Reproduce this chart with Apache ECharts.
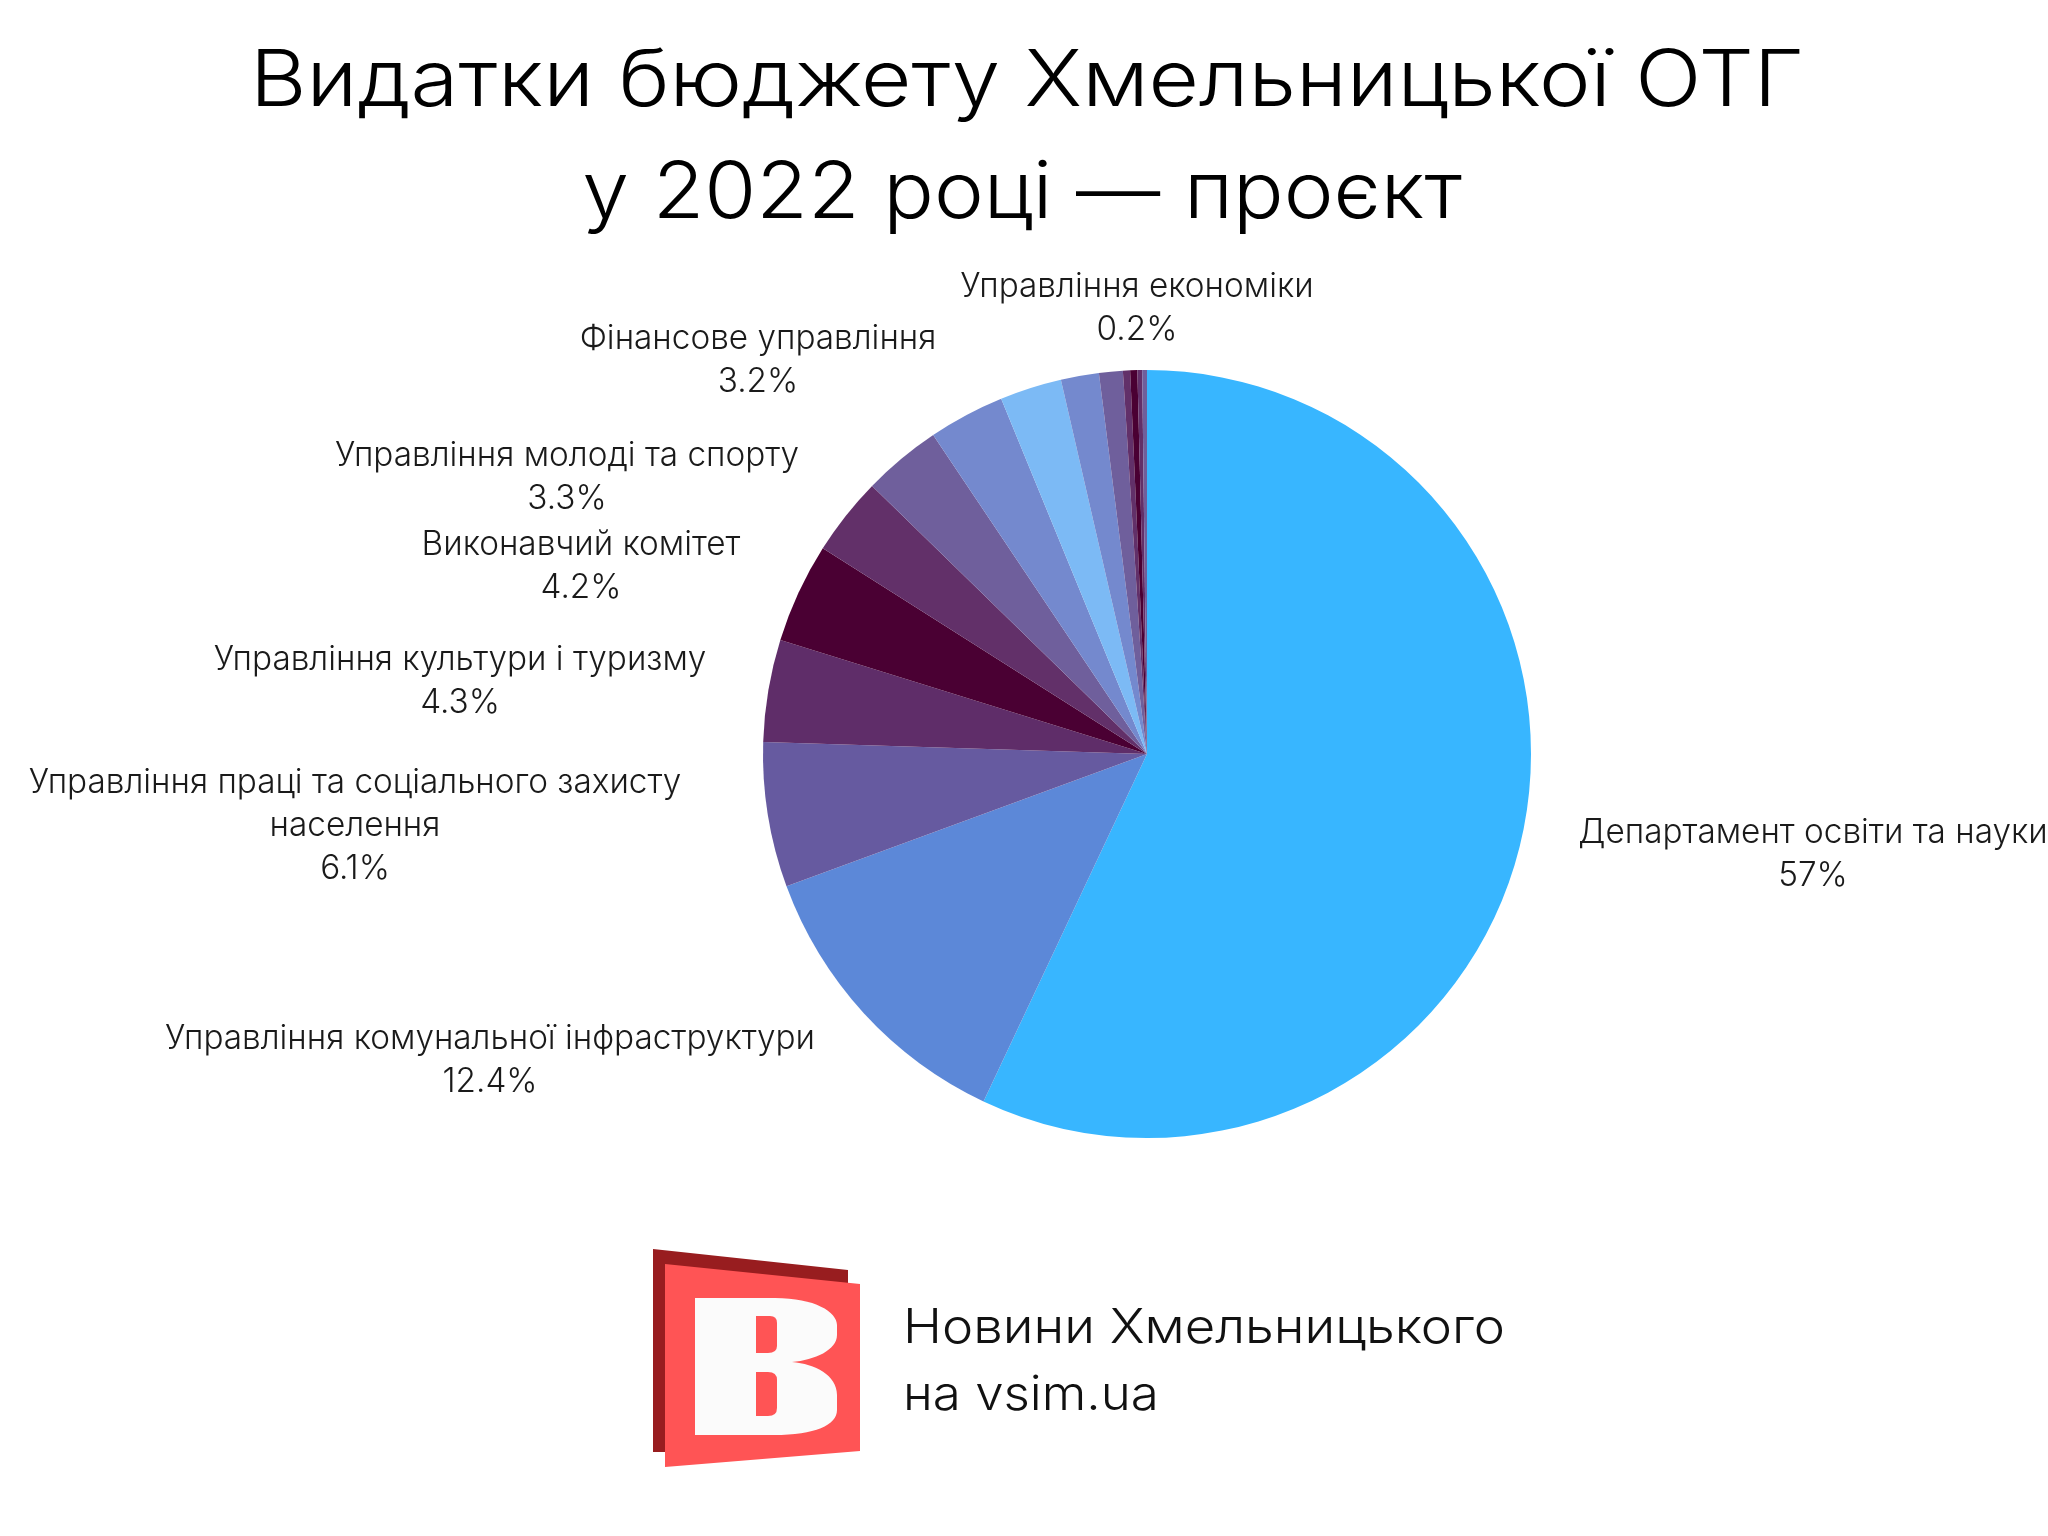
<!DOCTYPE html>
<html><head><meta charset="utf-8">
<style>html,body{margin:0;padding:0;background:#fff}#c{width:2048px;height:1536px}</style>
<script src="https://cdn.jsdelivr.net/npm/echarts@6/dist/echarts.min.js"></script>
</head><body><div id="c"></div>
<script>
const titleLines = ['Видатки бюджету Хмельницької ОТГ', 'у 2022 році — проєкт'];
const brandLines = ['Новини Хмельницького', 'на vsim.ua'];
const sliceValues = [57, 12.4, 6.1, 4.3, 4.2, 3.3, 3.3, 3.2, 2.6, 1.6, 1.0, 0.3, 0.3, 0.2, 0.2];
const sliceColors = ['#38B6FF','#5C88D8','#665AA0','#5F2D69','#4A0033','#623069','#6F5F9C','#7489CE','#7CBAF5','#7489CE','#6F5F9C','#623069','#4A0033','#623069','#6F5F9C'];
// index of slice -> displayed name (the source labels only some slices)
const labelNames = {
  0:'Департамент освіти та науки',
  1:'Управління комунальної інфраструктури',
  2:'Управління праці та соціального захисту\nнаселення',
  3:'Управління культури і туризму',
  4:'Виконавчий комітет',
  5:'Управління молоді та спорту',
  7:'Фінансове управління',
  14:'Управління економіки'
};
const labelSpots = {0:[1813,854],1:[490,1060],2:[355,826],3:[460,681],4:[581,566],5:[567,477],7:[758,360],14:[1137,308]};
const FONT = 'Inter';
const G = echarts.graphic;
G.registerShape('logoB', G.extendPath('M695 1298L775 1298C815 1298 837 1312 837 1325L837 1335C837 1350 815 1360 792 1362C815 1364 837 1375 837 1395L837 1410C837 1425 815 1435 774 1435L695 1435Z',{}));
G.registerShape('logoHoleA', G.extendPath('M756 1316L770 1316Q777 1316 777 1323L777 1346Q777 1353 768 1353L756 1353Z',{}));
G.registerShape('logoHoleB', G.extendPath('M756 1372L768 1372Q777 1372 777 1380L777 1408Q777 1416 768 1416L756 1416Z',{}));
const chart = echarts.init(document.getElementById('c'), null, {renderer:'canvas', width:2048, height:1536});
const titleEl = (t,x,y,sx)=>({type:'text',x:x,y:y,scaleX:sx,style:{text:t,x:0,y:0,align:'center',verticalAlign:'middle',fontFamily:FONT,fontWeight:300,fontSize:78,fill:'#000'}});
const brandEl = (t,y,sx)=>({type:'text',x:903,y:y,scaleX:sx,style:{text:t,x:0,y:0,align:'left',verticalAlign:'middle',fontFamily:FONT,fontWeight:300,fontSize:48,fill:'#111'}});
chart.setOption({
  animation:false,
  backgroundColor:'#fff',
  series:[{
    type:'pie', center:[1147,754], radius:[0,384], startAngle:90, clockwise:true,
    avoidLabelOverlap:false, silent:true, minAngle:0,
    labelLine:{show:false},
    label:{show:false,fontFamily:FONT,fontWeight:300,fontSize:33.3,lineHeight:43,color:'#1a1a1a',align:'center',
      formatter:p=>p.name+'\n'+p.value+'%'},
    labelLayout:p=>{const s=labelSpots[p.dataIndex];return s?{x:s[0],y:s[1],align:'center',verticalAlign:'middle'}:{}},
    data:sliceValues.map((v,i)=>({value:v,name:labelNames[i]||'',itemStyle:{color:sliceColors[i]},label:{show:i in labelNames}}))
  }],
  graphic:[
    titleEl(titleLines[0],1027,83,1.116),titleEl(titleLines[1],1022,195,1.079),
    {type:'polygon',shape:{points:[[653,1249],[848,1270],[848,1452],[653,1452]]},style:{fill:'#981D1F'}},
    {type:'polygon',shape:{points:[[665,1264],[860,1284],[860,1451],[665,1467]]},style:{fill:'#FF5455'}},
    {type:'logoB',style:{fill:'#FBFBFB'}},
    {type:'logoHoleA',style:{fill:'#FF5455'}},
    {type:'logoHoleB',style:{fill:'#FF5455'}},
    brandEl(brandLines[0],1329,1.097),brandEl(brandLines[1],1396,1.063)
  ]
});
</script></body></html>
